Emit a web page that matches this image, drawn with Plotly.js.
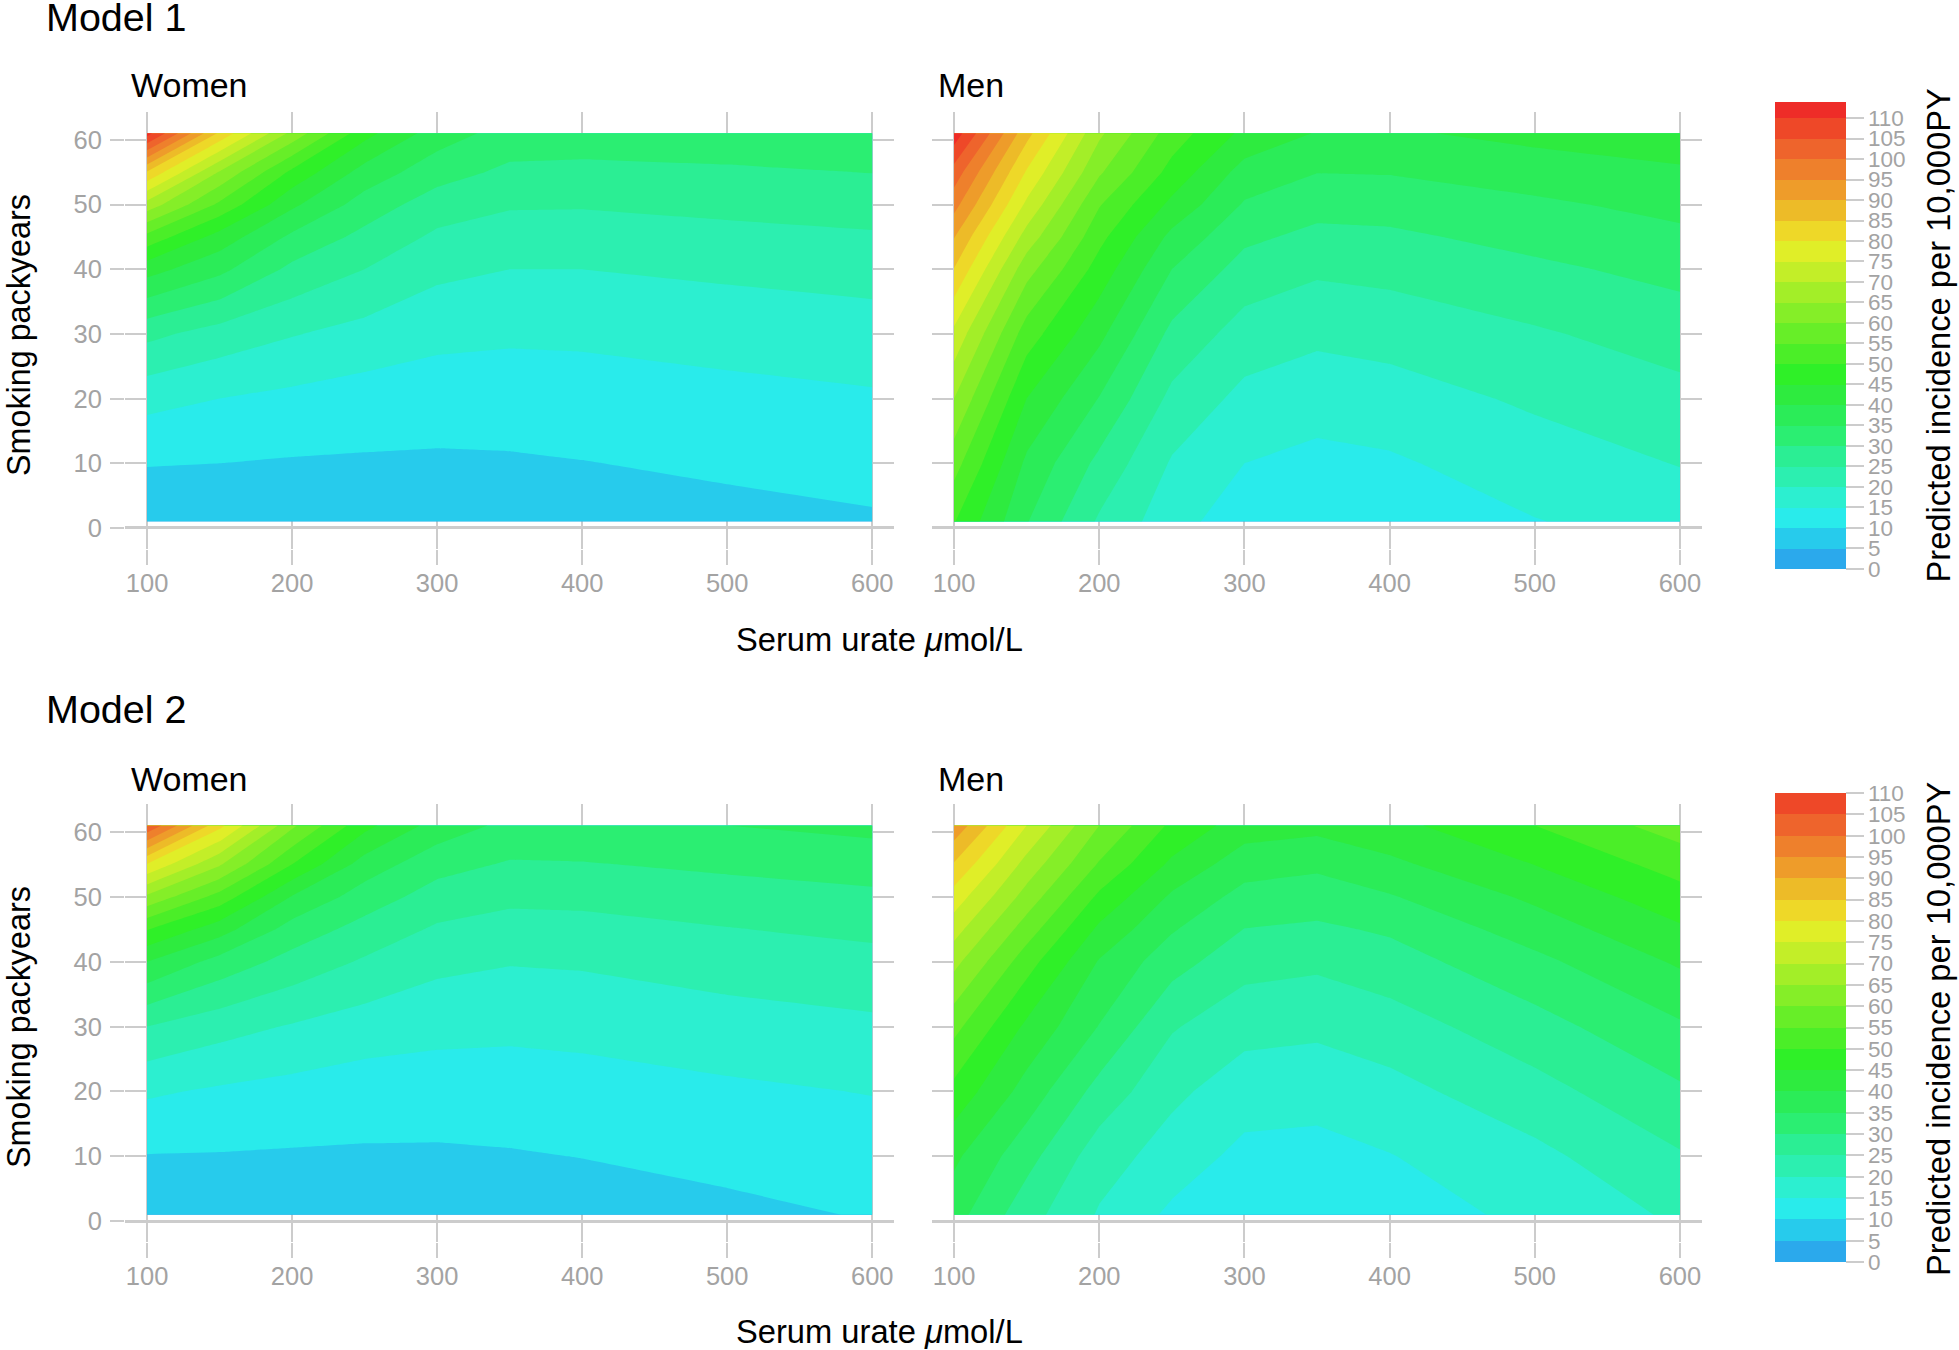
<!DOCTYPE html>
<html>
<head>
<meta charset="utf-8">
<script src="https://cdn.plot.ly/plotly-3.0.1.min.js"></script>
<style>html,body{margin:0;padding:0;background:#fff}#chart{width:1959px;height:1350px}</style>
</head>
<body>
<div id="chart"></div>
<script>
// Serum urate (umol/L) columns and smoking pack-year rows of the estimated surfaces
var urate = [100,150,200,250,300,350,400,500,600];
var packyears = [1,10,20,30,40,45,50,55,61];

// Predicted incidence per 10,000 PY (rows = packyears, columns = urate)
var model1Women = [
 [5.5,5.7,6,6.1,6.3,6.7,7.3,8.4,9.4],
 [10.3,10,9.6,9.45,9.3,9.4,9.85,10.9,11.8],
 [16.6,15,13.8,12.7,12.3,12.6,12.9,13.6,14.4],
 [26.3,22.9,20.3,18.3,16.3,15.7,15.8,16.8,17.8],
 [42,36.3,28.8,25,21.2,20,20,21,21.9],
 [53.5,43,34,28.6,24.1,22.7,22.7,23.6,24.4],
 [68,54,41,32.8,27.5,25.5,25.4,26.3,27.2],
 [84.6,64.5,48.8,38,32.1,28.9,28.6,29.2,30.1],
 [112,84,63.5,46.7,37.5,33,32.8,33.3,33.8]
];
var model1Men = [
 [50.3,35.3,24.3,17,12,10.8,11,14.8,17.2],
 [57,39,28.7,19.5,15,13.6,14.3,17.6,20.2],
 [65,45,34.8,23.7,18.6,17.2,17.9,20.8,23.5],
 [73.7,52.5,41.3,28.7,22.8,21,21.8,24.4,27.2],
 [84.8,62,47.9,35,28,25.8,26.5,29,31.5],
 [90.3,68,51.5,38.7,31.1,28.7,29.1,31.6,33.9],
 [96.8,74,55.4,43.8,34.5,31.8,32,34.1,36.5],
 [102.9,79.5,60.7,48.3,38,35.1,35.3,37.4,39.3],
 [113,86.7,66,52.6,43.8,39.7,39.3,41.5,42.9]
];
var model2Women = [
 [5.5,6,6.3,6.5,6.5,7,7.5,8.9,10.3],
 [9.8,9.7,9.5,9.4,9.3,9.6,10.1,11.3,12.4],
 [15.7,14.3,13.3,12.4,12.5,12.7,13,14.1,15.2],
 [25,21.9,19.6,17.6,16.4,16,16.4,17.9,19],
 [40,33.2,28.2,24.4,21.3,20.3,20.6,22.2,23.5],
 [50.3,42.2,32.9,28.2,24.3,23.1,23.3,24.8,26.1],
 [64,53.1,39.7,32.6,27.9,26.1,26.3,27.8,29],
 [79.7,65.6,50,37.8,31.8,29.5,29.7,31,32.2],
 [104.6,81.5,61,46.5,38,33.7,33.9,35,36.4]
];
var model2Men = [
 [37,27,19.5,14,11.5,10.6,12.2,16.4,20.8],
 [41,31.8,22.3,17.8,13.6,13.2,14.8,18.7,24.5],
 [48.4,38,28.2,21.1,17.4,17,18.4,23.2,29.2],
 [56.5,44,34.8,25.5,21.6,21,22.7,28.1,34.3],
 [66.5,52.2,39.6,32,26.9,26,27.9,33.7,40.7],
 [72,57.5,44,35.5,29.9,29.1,30.7,37.4,44.3],
 [77.8,63,49,39.2,33.3,32.5,34.6,41,48.1],
 [84.5,68.2,54.5,44,37.2,36,38.9,45.1,52.1],
 [93.5,75,60,49,42.5,41.5,43.5,50,57.4]
];

// One colour per 5-unit band, from 0-5 upward
var bandColors = ['#2BA9EC','#27CBEC','#29EBEB','#2CEFD0','#2CEFB0','#2BEE94','#2BEE72','#2BEC58',
 '#2EEB3F','#2FF028','#4BEE28','#67EE28','#85EE28','#A3EE28','#C3EE28','#E0EE28','#EED828',
 '#EDBB28','#EE9C2A','#EE802C','#EE642C','#EE4828','#EE2C28'];
var colorbarTicks = [0,5,10,15,20,25,30,35,40,45,50,55,60,65,70,75,80,85,90,95,100,105,110];
var xTicks = [100,200,300,400,500,600];
var yTicks = [0,10,20,30,40,50,60];

var W = 1959, H = 1350;
var GRID = '#cccccc', TICKTEXT = '#a3a3a3', FONT = '"Liberation Sans", Arial, sans-serif';

function xDomain(l, r){ return [l/W, r/W]; }
function yDomain(t, b){ return [1-b/H, 1-t/H]; }

function scale(n){
  // stepped scale over the contour levels (start..end); the band above the last level clamps to the top stop
  var m = n - 1, out = [];
  for (var i = 0; i < m; i++) {
    out.push([i/m, bandColors[i]]);
    out.push([(i === m-1 ? i+0.75 : i+1)/m, bandColors[i]]);
  }
  out.push([(m-0.25)/m, bandColors[m]]);
  out.push([1, bandColors[m]]);
  return out;
}

function panel(z, xa, ya, lastLevel, zmax, cb){
  var t = {
    type:'contour', x:urate, y:packyears, z:z, xaxis:xa, yaxis:ya,
    zauto:false, zmin:0, zmax:zmax, autocontour:false,
    contours:{start:0, end:lastLevel, size:5, coloring:'fill', showlines:false},
    line:{width:0, smoothing:0},
    colorscale:scale(lastLevel/5+1),
    hoverinfo:'skip', showscale:!!cb
  };
  if (cb) t.colorbar = {
    lenmode:'pixels', len:cb.len, thicknessmode:'pixels', thickness:71,
    x:1775/W, xanchor:'left', xpad:0, y:1-cb.top/H, yanchor:'top', ypad:0,
    outlinewidth:0, borderwidth:0,
    tickmode:'array', tickvals:colorbarTicks, ticktext:colorbarTicks.map(String),
    ticks:'outside', ticklen:18, tickwidth:2, tickcolor:GRID,
    tickfont:{family:FONT, size:22.5, color:TICKTEXT}
  };
  return t;
}

var data = [
  panel(model1Women,'x','y',110,114,{len:466.5,top:101.7}),
  panel(model1Men,'x2','y2',110,114,null),
  panel(model2Women,'x3','y3',105,110,{len:469,top:793}),
  panel(model2Men,'x4','y4',105,110,null)
];

function xAxis(dom, range, anchor){
  return {domain:dom, range:range, anchor:anchor, tickmode:'array', tickvals:xTicks,
    showgrid:true, gridcolor:GRID, gridwidth:2, zeroline:false, showline:false,
    ticks:'outside', ticklen:15, tickwidth:2, tickcolor:GRID, ticklabelstandoff:-4,
    tickfont:{family:FONT, size:25.5, color:TICKTEXT}};
}
function yAxis(dom, range, anchor, withLabels){
  return {domain:dom, range:range, anchor:anchor, tickmode:'array', tickvals:yTicks,
    showgrid:true, gridcolor:GRID, gridwidth:2, zeroline:true, zerolinecolor:GRID, zerolinewidth:3,
    showline:false, showticklabels:withLabels,
    ticks:withLabels?'outside':'', ticklen:14, tickwidth:2, tickcolor:GRID, ticklabelstandoff:3,
    tickfont:{family:FONT, size:25.5, color:TICKTEXT}};
}

function note(text, x, y, size, angle, xanchor){
  return {text:text, xref:'paper', yref:'paper', x:x/W, y:1-y/H, showarrow:false,
    xanchor:xanchor||'left', yanchor:'middle', textangle:angle||0, borderpad:0,
    font:{family:FONT, size:size, color:'#000'}};
}

var xrW = [84.8,615], xrM = [84.8,615.2];
var layout = {
  width:W, height:H, margin:{l:0,r:0,t:0,b:0,pad:0},
  paper_bgcolor:'#fff', plot_bgcolor:'#fff', showlegend:false,
  xaxis: xAxis(xDomain(125,894), xrW, 'y'),
  yaxis: yAxis(yDomain(112,549), [-3.25,64.3], 'x', true),
  xaxis2:xAxis(xDomain(932,1702), xrM, 'y2'),
  yaxis2:yAxis(yDomain(112,549), [-3.25,64.3], 'x2', false),
  xaxis3:xAxis(xDomain(125,894), xrW, 'y3'),
  yaxis3:yAxis(yDomain(804,1242), [-3.2,64.3], 'x3', true),
  xaxis4:xAxis(xDomain(932,1702), xrM, 'y4'),
  yaxis4:yAxis(yDomain(804,1242), [-3.2,64.3], 'x4', false),
  annotations:[
    note('Model 1',45,17,39.5),
    note('Women',130,85,34),
    note('Men',937,85,34),
    note('Smoking packyears',19,335,32.3,-90,'center'),
    note('Serum urate <i>\u03bc</i>mol/L',879,639,32.7,0,'center'),
    note('Predicted incidence per 10,000PY',1938,335.5,32.7,-90,'center'),
    note('Model 2',45,709,39.5),
    note('Women',130,779,34),
    note('Men',937,779,34),
    note('Smoking packyears',19,1027,32.3,-90,'center'),
    note('Serum urate <i>\u03bc</i>mol/L',879,1331,32.7,0,'center'),
    note('Predicted incidence per 10,000PY',1938,1029,32.7,-90,'center')
  ]
};
Plotly.newPlot('chart', data, layout, {displayModeBar:false, responsive:false});
</script>
</body>
</html>
